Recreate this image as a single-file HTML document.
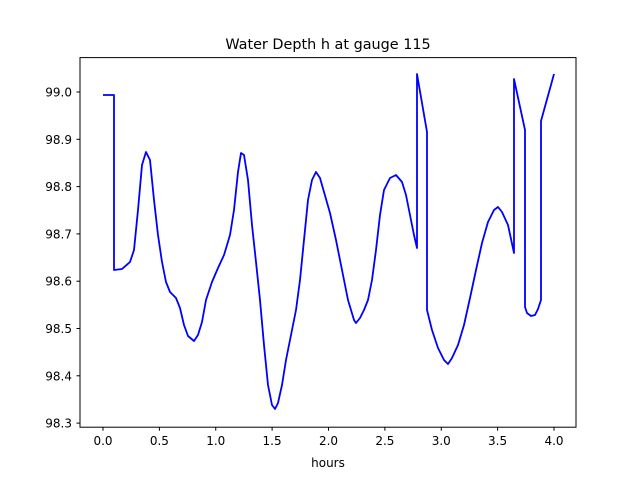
<!DOCTYPE html>
<html><head><meta charset="utf-8"><style>
html,body{margin:0;padding:0;background:#fff;}
svg text{font-family:"DejaVu Sans","Liberation Sans",sans-serif;}
</style></head><body>
<svg width="640" height="480" viewBox="0 0 640 480" xmlns="http://www.w3.org/2000/svg">
<rect width="640" height="480" fill="#fff"/>
<text x="328" y="49" font-size="14.4" text-anchor="middle" fill="#000">Water Depth h at gauge 115</text>
<polyline fill="none" stroke="#0000ff" stroke-width="1.8" stroke-linejoin="round" points="103,95 114,95 114,270 122,269 130,262 134,250 138,210 142,165 146,152 150,160 154,200 158,235 162,262 166,282 170,292 176,298 180,308 184,325 188,336 194,341 198,335 202,322 206,300 212,282 218,268 224,255 230,235 234,210 238,172 241,153 244,155 248,180 252,225 256,262 260,300 264,345 268,385 272,405 275,409 278,403 282,385 286,360 290,340 296,310 300,280 304,240 308,200 312,180 316,172 320,178 324,192 330,213 336,240 342,270 348,300 354,320 356,323 360,318 364,310 368,300 372,280 376,250 380,215 384,190 390,178 396,175 402,182 406,195 410,215 414,235 417,248 417,74 427,132 427,310 432,330 438,348 444,360 448,364 452,358 458,345 464,325 470,298 476,270 482,243 488,222 494,210 498,207 502,212 508,225 514,253 514,79 525,130 525,307 527,313 531,316 535,315 538,309 541,300 541,121 554,74"/>
<rect x="80" y="57.6" width="496" height="369.6" fill="none" stroke="#000" stroke-width="1"/>
<g stroke="#000" stroke-width="1">
<line x1="103" y1="427.2" x2="103" y2="430.7"/>
<line x1="159.4" y1="427.2" x2="159.4" y2="430.7"/>
<line x1="215.75" y1="427.2" x2="215.75" y2="430.7"/>
<line x1="272.1" y1="427.2" x2="272.1" y2="430.7"/>
<line x1="328.5" y1="427.2" x2="328.5" y2="430.7"/>
<line x1="384.9" y1="427.2" x2="384.9" y2="430.7"/>
<line x1="441.25" y1="427.2" x2="441.25" y2="430.7"/>
<line x1="497.6" y1="427.2" x2="497.6" y2="430.7"/>
<line x1="554" y1="427.2" x2="554" y2="430.7"/>
<line x1="76.5" y1="92" x2="80" y2="92"/>
<line x1="76.5" y1="139.3" x2="80" y2="139.3"/>
<line x1="76.5" y1="186.6" x2="80" y2="186.6"/>
<line x1="76.5" y1="233.9" x2="80" y2="233.9"/>
<line x1="76.5" y1="281.2" x2="80" y2="281.2"/>
<line x1="76.5" y1="328.5" x2="80" y2="328.5"/>
<line x1="76.5" y1="375.8" x2="80" y2="375.8"/>
<line x1="76.5" y1="423.1" x2="80" y2="423.1"/>
</g>
<g font-size="12" text-anchor="middle" fill="#000">
<text x="103" y="445">0.0</text><text x="159.4" y="445">0.5</text><text x="215.75" y="445">1.0</text>
<text x="272.1" y="445">1.5</text><text x="328.5" y="445">2.0</text><text x="384.9" y="445">2.5</text>
<text x="441.25" y="445">3.0</text><text x="497.6" y="445">3.5</text><text x="554" y="445">4.0</text>
<text x="328" y="467">hours</text>
</g>
<g font-size="12" text-anchor="end" fill="#000">
<text x="72" y="96.5">99.0</text><text x="72" y="143.8">98.9</text><text x="72" y="191.1">98.8</text>
<text x="72" y="238.4">98.7</text><text x="72" y="285.7">98.6</text><text x="72" y="333">98.5</text>
<text x="72" y="380.3">98.4</text><text x="72" y="427.6">98.3</text>
</g>
</svg>
</body></html>
